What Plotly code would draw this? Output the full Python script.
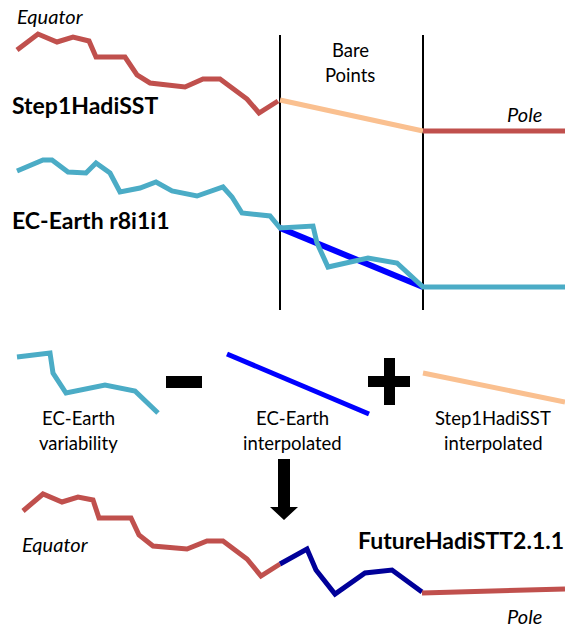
import plotly.graph_objects as go

# ---- data (pixel space of the 565x629 schematic; y grows downward) ----
step1_x = [17, 38, 57, 73, 89, 96, 125, 137, 150, 185, 203, 220, 247, 259, 278]
step1_y = [50, 34, 42, 37, 41, 57, 57, 75, 83, 87, 79, 79, 99, 113, 101]
step1_bare_x = [280, 423]
step1_bare_y = [100, 131]
step1_pole_x = [423, 565]
step1_pole_y = [131, 131]

ec_x = [17, 43, 52, 68, 86, 96, 110, 120, 140, 156, 172, 197, 223, 232, 242, 270, 280,
        313, 317, 328, 368, 397, 423, 565]
ec_y = [171, 160, 160, 172, 173, 163, 173, 192, 188, 182, 191, 196, 187, 197, 213, 216, 228,
        226, 243, 267, 258, 263, 287, 287]
ec_interp_x = [280, 423]
ec_interp_y = [228, 287]

bare_bounds_x = [280, 423]
bare_bounds_y = [35, 310]

var_x = [17, 50, 53, 66, 105, 135, 158]
var_y = [357, 353, 373, 393, 385, 391, 413]
ec_int_mid_x = [227, 369]
ec_int_mid_y = [354, 414]
st_int_mid_x = [423, 565]
st_int_mid_y = [373, 402]

fut_red_x = [23, 43, 62, 78, 93, 99, 131, 139, 153, 187, 207, 223, 247, 261, 280]
fut_red_y = [511, 494, 502, 497, 500, 518, 518, 535, 546, 549, 541, 541, 559, 576, 564]
fut_navy_x = [280, 307, 316, 335, 365, 392, 422]
fut_navy_y = [564, 549, 570, 594, 573, 570, 592]
fut_pole_x = [422, 565]
fut_pole_y = [593, 589]

minus_x = [166, 202, 202, 166, 166]
minus_y = [376, 376, 388, 388, 376]
plus_x = [384, 395, 395, 410, 410, 395, 395, 384, 384, 368, 368, 384, 384]
plus_y = [358, 358, 376, 376, 387, 387, 405, 405, 387, 387, 376, 376, 358]
arrow_x = [278, 290, 290, 298, 284, 270, 278, 278]
arrow_y = [459, 459, 507, 507, 520, 507, 507, 459]

labels = [
    ("<i>Equator</i>", 50, 16, "center", 20),
    ("<b>Step1HadiSST</b>", 11, 105, "left", 23),
    ("Bare", 350, 50, "center", 18.5),
    ("Points", 350, 75, "center", 18.5),
    ("<i>Pole</i>", 524, 114, "center", 20),
    ("<b>EC-Earth r8i1i1</b>", 11, 220, "left", 23),
    ("EC-Earth", 78, 418, "center", 18.5),
    ("variability", 78, 443, "center", 18.5),
    ("EC-Earth", 292, 418, "center", 18.5),
    ("interpolated", 292, 443, "center", 18.5),
    ("Step1HadiSST", 493, 418, "center", 18.5),
    ("interpolated", 493, 443, "center", 18.5),
    ("<i>Equator</i>", 55, 544, "center", 20),
    ("<b>FutureHadiSTT2.1.1</b>", 565, 540, "right", 23),
    ("<i>Pole</i>", 524, 616, "center", 20),
]

RED = "#C0504D"
AQUA = "#4BACC6"
ORANGE = "#FAC090"
BLUE = "#0000FF"
NAVY = "#000099"

fig = go.Figure()


def line(x, y, color, width):
    fig.add_trace(go.Scatter(x=x, y=y, mode="lines", hoverinfo="skip",
                             line=dict(color=color, width=width), showlegend=False))


def poly(x, y, color):
    fig.add_trace(go.Scatter(x=x, y=y, mode="lines", fill="toself", fillcolor=color,
                             hoverinfo="skip", line=dict(color=color, width=0),
                             showlegend=False))


# bare-point boundaries
for bx in bare_bounds_x:
    line([bx, bx], bare_bounds_y, "black", 2)

line(step1_x, step1_y, RED, 5)
line(step1_bare_x, step1_bare_y, ORANGE, 5)
line(step1_pole_x, step1_pole_y, RED, 5)

line(ec_interp_x, ec_interp_y, BLUE, 6)
line(ec_x, ec_y, AQUA, 5)

line(var_x, var_y, AQUA, 5)
line(ec_int_mid_x, ec_int_mid_y, BLUE, 5)
line(st_int_mid_x, st_int_mid_y, ORANGE, 5)

poly(minus_x, minus_y, "black")
poly(plus_x, plus_y, "black")
poly(arrow_x, arrow_y, "black")

line(fut_red_x, fut_red_y, RED, 5)
line(fut_navy_x, fut_navy_y, NAVY, 5)
line(fut_pole_x, fut_pole_y, RED, 5)

for text, x, y, anchor, size in labels:
    fig.add_annotation(x=x, y=y, xref="x", yref="y", text=text, showarrow=False,
                       xanchor=anchor, yanchor="middle", borderpad=0,
                       font=dict(family="Lato", size=size, color="black"))

fig.update_layout(
    width=565, height=629,
    margin=dict(l=0, r=0, t=0, b=0),
    paper_bgcolor="white", plot_bgcolor="white",
    xaxis=dict(range=[0, 565], visible=False, fixedrange=True),
    yaxis=dict(range=[629, 0], visible=False, fixedrange=True),
    showlegend=False,
)

fig.write_html("out.html", config={"displayModeBar": False},
               post_script="document.body.style.margin='0';document.body.style.overflow='hidden';")
